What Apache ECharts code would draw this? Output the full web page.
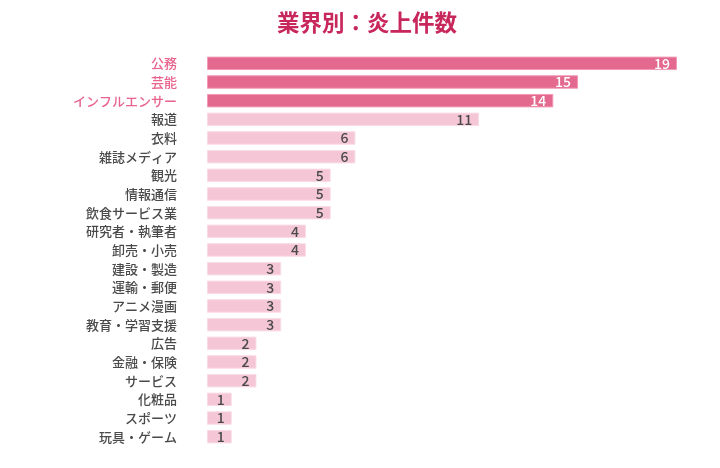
<!DOCTYPE html>
<html>
<head>
<meta charset="utf-8">
<script src="https://cdn.jsdelivr.net/npm/echarts@6/dist/echarts.min.js"></script>
<style>
  html, body { margin: 0; padding: 0; background: #fff; }
  #chart { width: 720px; height: 468px; }
</style>
</head>
<body>
<div id="chart"></div>
<script>
// 業種（上から順）
const categories = ['公務', '芸能', 'インフルエンサー', '報道', '衣料', '雑誌メディア', '観光', '情報通信',
  '飲食サービス業', '研究者・執筆者', '卸売・小売', '建設・製造', '運輸・郵便', 'アニメ漫画',
  '教育・学習支援', '広告', '金融・保険', 'サービス', '化粧品', 'スポーツ', '玩具・ゲーム']
// 炎上件数
const counts = [19, 15, 14, 11, 6, 6, 5, 5, 5, 4, 4, 3, 3, 3, 3, 2, 2, 2, 1, 1, 1]
// 強調する上位件数
const highlightTop = 3

const font = '"Noto Sans CJK JP", "Noto Sans", sans-serif'
const darkPink = '#e4698f'
const lightPink = '#f5c6d6'

let myChart = echarts.init(document.getElementById('chart'))
myChart.setOption({
  // タイトル
  title: {
    text: '業界別：炎上件数',
    left: 272,
    top: 6,
    textStyle: {
      fontFamily: font,
      fontSize: 22.5,
      fontWeight: 'bold',
      color: '#c8275c'
    }
  },
  grid: {
    left: 207,
    right: 43,
    top: 54,
    bottom: 22,
    containLabel: false
  },
  xAxis: {
    type: 'value',
    min: 0,
    max: 19,
    show: false
  },
  yAxis: {
    type: 'category',
    data: categories,
    inverse: true,
    axisLine: { show: false },
    axisTick: { show: false },
    axisLabel: {
      margin: 30,
      fontFamily: font,
      fontSize: 13,
      fontWeight: 500,
      color: function (v, i) {
        return i < highlightTop ? '#e8648e' : '#4a4a4a'
      }
    }
  },
  series: [
    {
      type: 'bar',
      barWidth: '72%',
      data: counts.map(function (v, i) {
        const top = i < highlightTop
        return {
          value: v,
          itemStyle: {
            color: top ? darkPink : lightPink,
            borderColor: top ? '#f29ab6' : '#fadbe5',
            borderWidth: 1
          },
          label: { color: top ? '#fff' : '#4a4a4a' }
        }
      }),
      label: {
        show: true,
        position: 'insideRight',
        distance: 7,
        fontFamily: font,
        fontSize: 14,
        fontWeight: 500
      }
    }
  ],
  animation: false,
  backgroundColor: '#fff'
})
</script>
</body>
</html>
